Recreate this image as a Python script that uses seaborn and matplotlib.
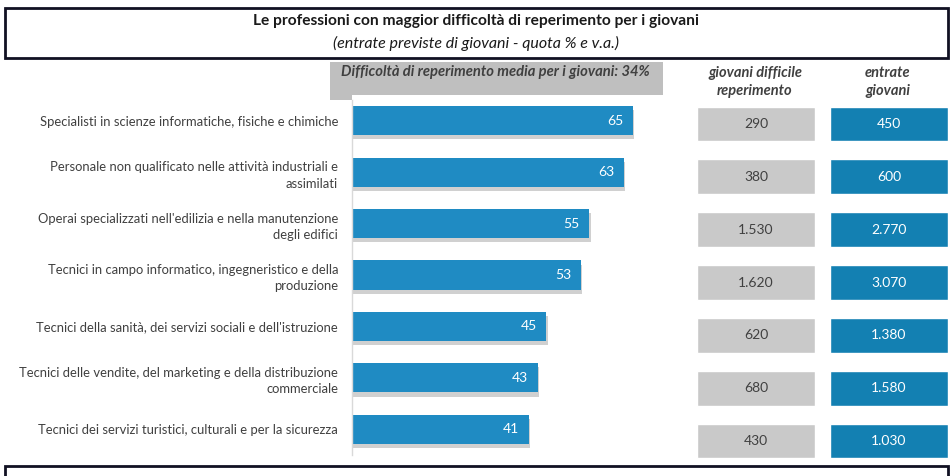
import numpy as np
import pandas as pd
import matplotlib
matplotlib.use("Agg")
import matplotlib.pyplot as plt
import matplotlib.patheffects as pe
from matplotlib.patches import Rectangle
import seaborn as sns

# Data
professioni = [
    "Specialisti in scienze informatiche, fisiche e chimiche",
    "Personale non qualificato nelle attività industriali e\nassimilati",
    "Operai specializzati nell'edilizia e nella manutenzione\ndegli edifici",
    "Tecnici in campo informatico, ingegneristico e della\nproduzione",
    "Tecnici della sanità, dei servizi sociali e dell'istruzione",
    "Tecnici delle vendite, del marketing e della distribuzione\ncommerciale",
    "Tecnici dei servizi turistici, culturali e per la sicurezza",
]
quota_difficolta = [65, 63, 55, 53, 45, 43, 41]
giovani_difficili = [290, 380, 1530, 1620, 620, 680, 430]
entrate_giovani = [450, 600, 2770, 3070, 1380, 1580, 1030]
media_difficolta = 34

BAR_BLUE = "#1F8BC3"
BOX_BLUE = "#1380B2"
BOX_GRAY = "#C9C9C9"
HEAD_GRAY = "#BFBFBF"
TXT = "#404040"

W, H = 953, 476


def px_axes(fig, x0, y0, x1, y1):
    # axes placed in pixel coords (top-left origin)
    return fig.add_axes([x0 / W, 1 - y1 / H, (x1 - x0) / W, (y1 - y0) / H])


def fmt_it(v):
    return f"{v:,}".replace(",", ".")


sns.set_theme(style="white")
plt.rcParams["font.family"] = ["Lato", "DejaVu Sans"]

df = pd.DataFrame({"professione": professioni, "quota": quota_difficolta})

fig = plt.figure(figsize=(W / 100, H / 100), dpi=100)

# frame boxes drawn on an overlay axes in pixel units
ov = fig.add_axes([0, 0, 1, 1])
ov.set_xlim(0, W)
ov.set_ylim(H, 0)
ov.axis("off")
ov.add_patch(Rectangle((5, 8), 943, 50, facecolor="white", edgecolor="#111122", linewidth=2))
ov.add_patch(Rectangle((5, 466), 943, 30, facecolor="white", edgecolor="#111122", linewidth=2))
ov.add_patch(Rectangle((330, 62), 333, 38, facecolor=HEAD_GRAY, edgecolor="none"))
ov.text(476, 21, "Le professioni con maggior difficoltà di reperimento per i giovani",
        ha="center", va="center", fontsize=11.2, fontweight="bold", color="#1a1a1a")
ov.text(476, 43, "(entrate previste di giovani - quota % e v.a.)",
        ha="center", va="center", fontsize=11.5, style="italic", color="#1a1a1a")
ov.text(495, 72, f"Difficoltà di reperimento media per i giovani: {media_difficolta}%",
        ha="center", va="center", fontsize=10.6, fontweight="bold", style="italic", color=TXT)
ov.text(755, 82, "giovani difficile\nreperimento", ha="center", va="center", fontsize=10.5,
        fontweight="bold", style="italic", color=TXT, linespacing=1.4)
ov.text(888, 82, "entrate\ngiovani", ha="center", va="center", fontsize=10.5,
        fontweight="bold", style="italic", color=TXT, linespacing=1.4)

# main bar chart
ax = px_axes(fig, 352, 95, 680, 455)
sns.barplot(data=df, x="quota", y="professione", orient="h", color=BAR_BLUE,
            saturation=1, width=0.565, linewidth=0, ax=ax)
for bar in ax.patches:
    bar.set_path_effects([pe.SimplePatchShadow(offset=(1, -3), shadow_rgbFace="#7a7a7a",
                                               alpha=0.35), pe.Normal()])
for i, v in enumerate(quota_difficolta):
    ax.text(v - 2.2, i, str(v), ha="right", va="center", color="white", fontsize=10)
ax.set_xlim(0, 76)
ax.set_ylim(6.5, -0.5)
ax.set_xticks([])
ax.set_xlabel("")
ax.set_ylabel("")
ax.tick_params(axis="y", length=0, pad=10, labelsize=9.4, labelcolor=TXT)
for lab in ax.get_yticklabels():
    lab.set_multialignment("right")
    lab.set_linespacing(1.45)
ax.spines[["top", "right", "bottom"]].set_visible(False)
ax.spines["left"].set_color("#D9D9D9")
ax.spines["left"].set_linewidth(1)
ax.spines["left"].set_bounds(6.5, -0.4)

# table columns drawn as full-width cells
rows = np.arange(len(professioni))
for (x0, x1), vals, face, tcol in [((697, 815), giovani_difficili, BOX_GRAY, TXT),
                                    ((830, 948), entrate_giovani, BOX_BLUE, "white")]:
    axt = px_axes(fig, x0, 97.6, x1, 467.4)
    axt.barh(rows, np.ones(len(rows)), height=0.66, color=face, left=0)
    for i, v in zip(rows, vals):
        axt.text(0.5, i, fmt_it(v), ha="center", va="center", color=tcol, fontsize=10)
    axt.set_xlim(0, 1)
    axt.set_ylim(6.5, -0.5)
    axt.axis("off")

fig.savefig("out.png", dpi=100)
